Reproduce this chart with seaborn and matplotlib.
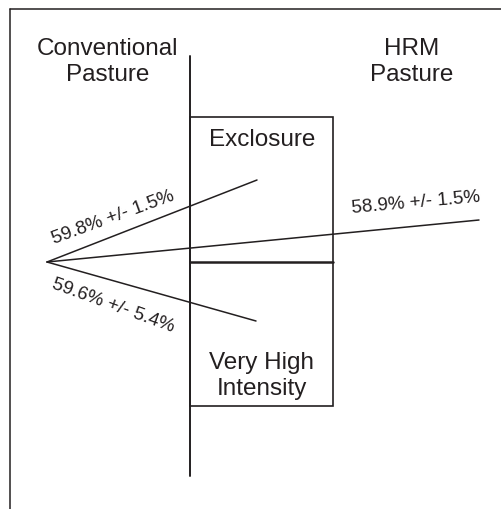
import numpy as np
import pandas as pd
import matplotlib.pyplot as plt
import seaborn as sns
from matplotlib.patches import Rectangle

sns.set_style('white')
plt.rcParams['font.family'] = ['Liberation Sans', 'DejaVu Sans']

# diagram drawn in a 501 x 510 "pixel" space (y grows downward)
origin = (47, 263)
arm_names = ['Exclosure', 'HRM', 'Very High Intensity']
arm_end_x = [257, 479, 256]
arm_end_y = [181, 221, 322]
arm_labels = ['59.8% +/- 1.5%', '58.9% +/- 1.5%', '59.6% +/- 5.4%']
arm_label_x = [113, 416, 113]
arm_label_y = [218, 203, 306]
arm_label_rot = [20, 5, -20]

region_labels = ['Conventional\nPasture', 'HRM\nPasture', 'Exclosure', 'Very High\nIntensity']
region_x = [108, 412, 262, 262]
region_y = [62, 62, 140, 376]

rows = []
for name, ex, ey in zip(arm_names, arm_end_x, arm_end_y):
    rows.append({'arm': name, 'x': origin[0], 'y': origin[1]})
    rows.append({'arm': name, 'x': ex, 'y': ey})
df = pd.DataFrame(rows)

fig = plt.figure(figsize=(5.01, 5.10), dpi=100)
ax = fig.add_axes([0, 0, 1, 1])

sns.lineplot(data=df, x='x', y='y', units='arm', estimator=None, sort=False,
             color='#231f20', lw=1.1, ax=ax, legend=False)

ink = '#231f20'
# outer frame (left + top)
ax.plot([10, 10], [510, 10], color=ink, lw=1.1)
ax.plot([10, 501], [10, 10], color=ink, lw=1.1)
# fence between pastures
ax.plot([190, 190], [57, 477], color=ink, lw=1.4)
# exclosure / very high intensity boxes
ax.add_patch(Rectangle((190, 118), 143, 289, fill=False, ec=ink, lw=1.2))
ax.plot([190, 333], [263, 263], color=ink, lw=1.8)

for txt, x, y in zip(region_labels, region_x, region_y):
    ax.text(x, y, txt, ha='center', va='center', fontsize=17.5,
            color=ink, linespacing=1.2)

for txt, x, y, r in zip(arm_labels, arm_label_x, arm_label_y, arm_label_rot):
    ax.text(x, y, txt, ha='center', va='center', fontsize=13.5,
            rotation=r, color=ink)

ax.set_xlim(0, 501)
ax.set_ylim(510, 0)
ax.axis('off')

fig.savefig('out.png', dpi=100)
